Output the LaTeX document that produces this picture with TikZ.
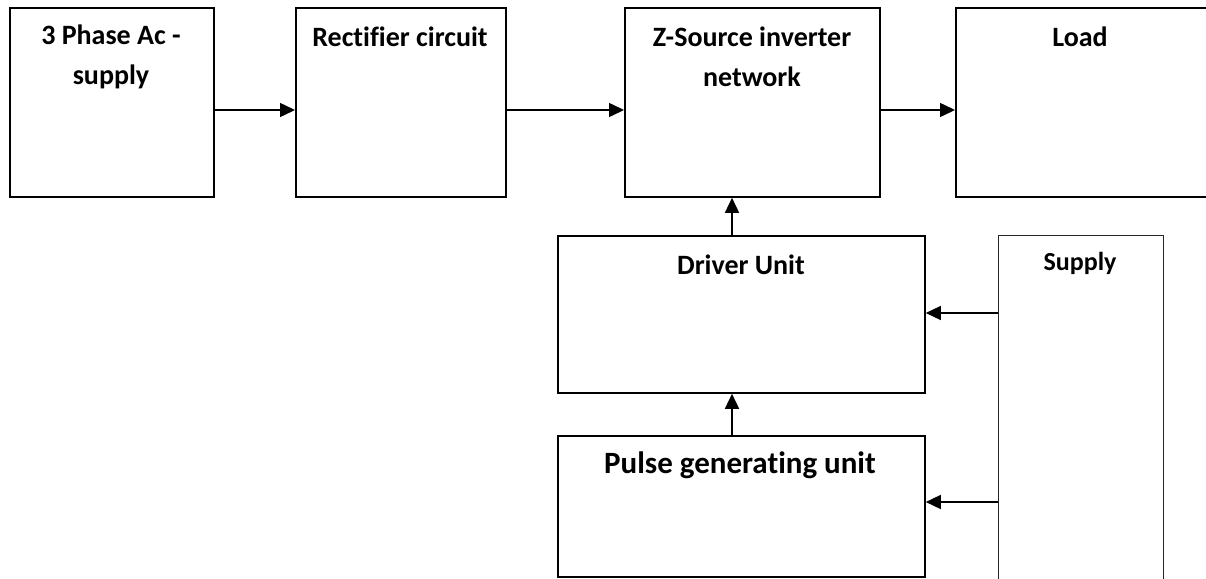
\documentclass[tikz,border=0pt]{standalone}
\usepackage{fontspec}
\setmainfont{Carlito}[Ligatures=NoCommon]
\usetikzlibrary{arrows.meta,calc}
\begin{document}
\begin{tikzpicture}[x=1pt,y=-1pt,
  blk/.style={draw, line width=1.8pt, inner sep=0pt, anchor=north west},
  thinblk/.style={draw=black!85, line width=1.3pt, inner sep=0pt, anchor=north west},
  txt/.style={font=\fontsize{28}{40}\selectfont\bfseries, align=center, inner sep=0pt},
  arr/.style={line width=1.5pt, -{Triangle[length=15pt,width=14pt]}}]
\useasboundingbox (0,0) rectangle (1206,578);
\clip (0,0) rectangle (1206,578);
% blocks
\node[blk, minimum width=204pt, minimum height=189pt] (ac) at (9,7) {};
\node[blk, minimum width=210pt, minimum height=189pt] (rect) at (295,7) {};
\node[blk, minimum width=255pt, minimum height=189pt] (zs) at (624,7) {};
\node[blk, minimum width=270pt, minimum height=189pt] (load) at (955,7) {};
\node[blk, minimum width=367pt, minimum height=157pt] (drv) at (557,235) {};
\node[blk, minimum width=367pt, minimum height=141pt] (pulse) at (557,435) {};
\node[thinblk, minimum width=165pt, minimum height=380pt] (sup) at (998,235) {};
% texts
\node[txt] (tac) at (111,57) {3 Phase Ac -\\supply};
\node[txt] (trect) at (400,37) {Rectifier circuit};
\node[txt] (tzs) at (752,57) {Z-Source inverter\\network};
\node[txt] (tload) at (1080,37) {Load};
\node[txt] (tdrv) at (741,265) {Driver Unit};
\node[txt, font=\fontsize{31}{37}\selectfont\bfseries] (tpulse) at (740,465) {Pulse generating unit};
\node[txt, font=\fontsize{26}{31}\selectfont\bfseries] (tsup) at (1080,263) {Supply};
% connectors
\draw[arr] (ac.east |- 0,110) -- (rect.west |- 0,110);
\draw[arr] (rect.east |- 0,110) -- (zs.west |- 0,110);
\draw[arr] (zs.east |- 0,110) -- (load.west |- 0,110);
\draw[arr] (drv.north -| 732,0) -- (zs.south -| 732,0);
\draw[arr] (pulse.north -| 732,0) -- (drv.south -| 732,0);
\draw[arr] (sup.west |- 0,313) -- (drv.east |- 0,313);
\draw[arr] (sup.west |- 0,502) -- (pulse.east |- 0,502);
\end{tikzpicture}
\end{document}
